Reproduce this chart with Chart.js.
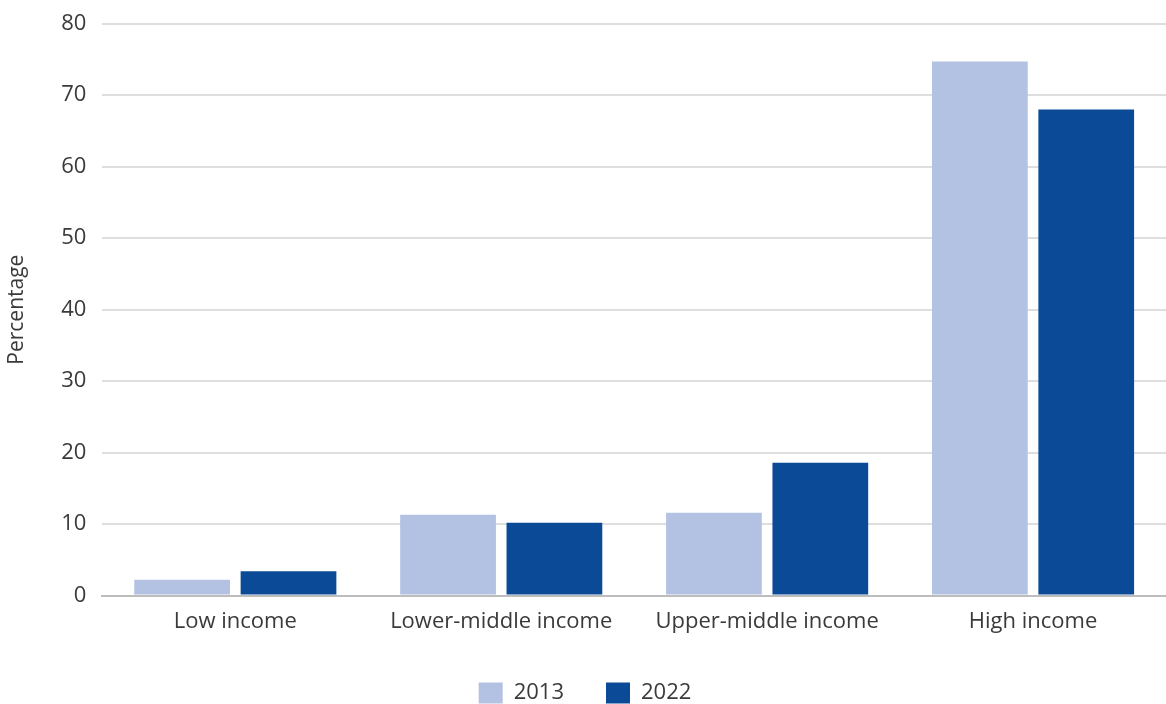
<!DOCTYPE html>
<html>
<head>
<meta charset="utf-8">
<script src="https://cdn.jsdelivr.net/npm/chart.js@4/dist/chart.umd.min.js"></script>
<style>
  html, body { margin: 0; padding: 0; background: #fff; }
  #wrap { width: 1166px; height: 704px; }
</style>
</head>
<body>
<div id="wrap"><canvas id="barChart" width="1166" height="704"></canvas></div>
<script>
let categories = ['Low income', 'Lower-middle income', 'Upper-middle income', 'High income'];
let values2013 = [2.2, 11.3, 11.6, 74.7];
let values2022 = [3.4, 10.2, 18.6, 68.0];
let yTicks = [0, 10, 20, 30, 40, 50, 60, 70, 80];

let fontFamily = "'Open Sans', 'Noto Sans', sans-serif";
let textColor = '#3a3a3a';

let barChartDraw = function () {
    let ctx = document.getElementById('barChart').getContext('2d');

    window.barChart = new Chart(ctx, {
        type: 'bar',
        data: {
            labels: categories,
            datasets: [{
                label: '2013',
                data: values2013,
                backgroundColor: '#b3c1e2'
            }, {
                label: '2022',
                data: values2022,
                backgroundColor: '#0b4a97'
            }]
        },
        options: {
            responsive: false,
            animation: false,
            layout: {
                padding: { top: 8, right: 0, left: 4, bottom: -10 }
            },
            datasets: {
                bar: { categoryPercentage: 0.8, barPercentage: 0.9 }
            },
            plugins: {
                tooltip: { enabled: false },
                legend: {
                    position: 'bottom',
                    labels: {
                        boxWidth: 24,
                        boxHeight: 21,
                        padding: 42,
                        color: textColor,
                        font: { family: fontFamily, size: 22 }
                    }
                }
            },
            scales: {
                x: {
                    grid: { display: false },
                    border: { color: '#bdbdbd', width: 2 },
                    ticks: {
                        color: textColor,
                        padding: 5,
                        font: { family: fontFamily, size: 22 }
                    }
                },
                y: {
                    min: 0,
                    max: 80,
                    afterBuildTicks: function (axis) {
                        axis.ticks = yTicks.map(function (v) { return { value: v }; });
                    },
                    grid: {
                        color: '#dedede',
                        lineWidth: 2,
                        drawTicks: false
                    },
                    border: { display: false },
                    ticks: {
                        color: textColor,
                        padding: 16,
                        font: { family: fontFamily, size: 22, lineHeight: 0.7 }
                    },
                    title: {
                        display: true,
                        text: 'Percentage',
                        color: textColor,
                        padding: { top: 0, bottom: 16 },
                        font: { family: fontFamily, size: 21 }
                    }
                }
            }
        }
    });
};

barChartDraw();
</script>
</body>
</html>
